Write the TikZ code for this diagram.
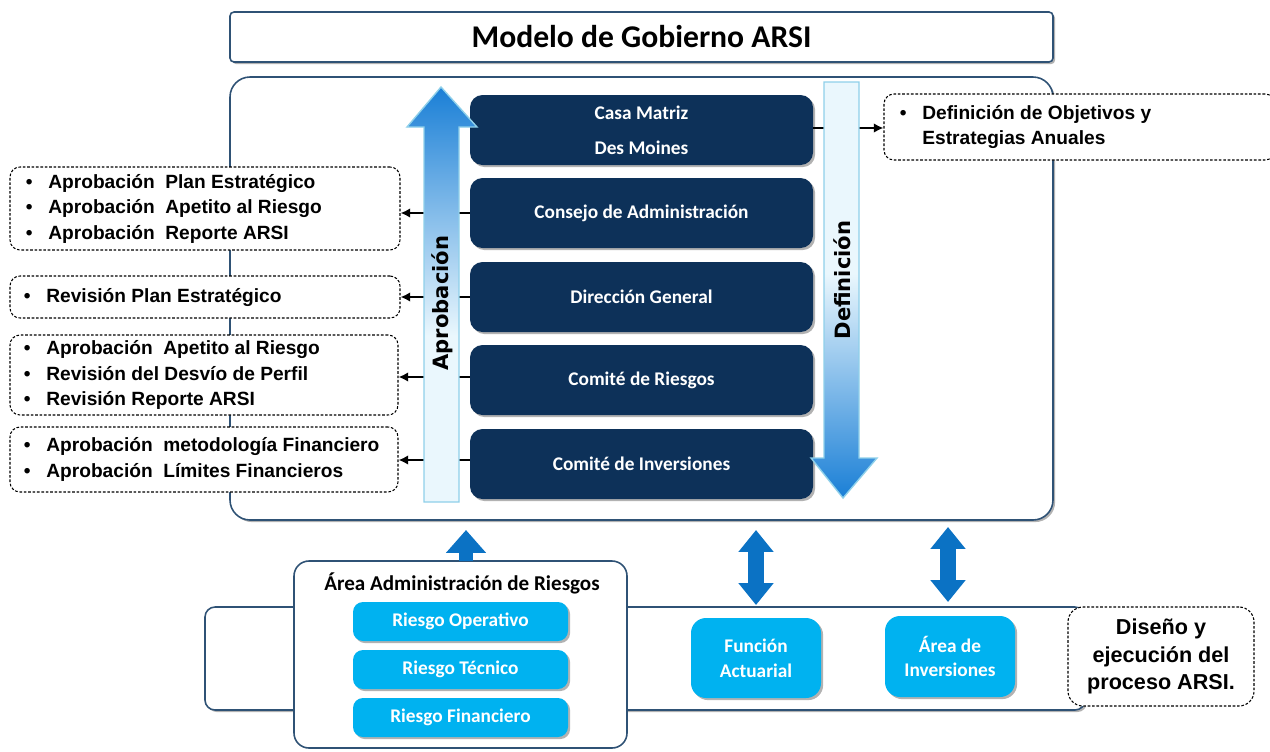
\documentclass[tikz,border=0pt]{standalone}
\usepackage{fontspec}
\setmainfont{Carlito}
\newfontfamily\arialf{Liberation Sans}
\newfontfamily\verdf{DejaVu Sans}
\usetikzlibrary{arrows.meta,fit,shadows,calc}
\definecolor{navy}{HTML}{0D3159}
\definecolor{framec}{HTML}{2F5275}
\definecolor{cyanb}{HTML}{00B2F0}
\definecolor{arrowb}{HTML}{0B72C4}
\definecolor{gblue}{HTML}{1A7FD6}
\definecolor{glight}{HTML}{EAF7FD}
\definecolor{gborder}{HTML}{8FD0EA}
\pgfdeclareverticalshading{aprobsh}{100bp}{color(0bp)=(glight); color(25bp)=(glight); color(45bp)=(glight); color(75bp)=(gblue); color(100bp)=(gblue)}
\pgfdeclareverticalshading{defsh}{100bp}{color(0bp)=(gblue); color(25bp)=(gblue); color(52bp)=(glight); color(75bp)=(glight); color(100bp)=(glight)}
\begin{document}
\begin{tikzpicture}[x=0.02cm,y=-0.02cm,
  shadowed/.style={drop shadow={shadow xshift=1.2pt,shadow yshift=-1.2pt,opacity=0.3,fill=black}},
  frame/.style={draw=framec,line width=0.9pt,fill=white,inner sep=0pt},
  darkbox/.style={fill=navy,rounded corners=0.25cm,inner sep=0pt,shadowed},
  darktext/.style={text=white,font=\bfseries\fontsize{11}{12}\selectfont,align=center},
  dashbox/.style={draw=black,line width=0.6pt,dash pattern=on 1.5pt off 1pt,fill=white,rounded corners=0.2cm,inner sep=0pt},
  listtext/.style={font=\arialf\bfseries\fontsize{10.9}{14.5}\selectfont,anchor=west,inner sep=0pt,text=black},
  cyanbox/.style={fill=cyanb,rounded corners=0.2cm,inner sep=0pt,shadowed},
  cyantext/.style={text=white,font=\bfseries\fontsize{11}{14}\selectfont,align=center},
  arrowlabel/.style={rotate=90,font=\verdf\bfseries\fontsize{12}{14}\selectfont,text=black},
  conn/.style={line width=1.2pt,-{Latex[length=5.5pt,width=5.5pt]}},
  fatarrow/.style={draw=arrowb,line width=9pt,{Triangle[width=19.3pt,length=12.5pt]}-{Triangle[width=19.3pt,length=12.5pt]}},
  uparrow/.style={draw=arrowb,line width=8.5pt,-{Triangle[width=22pt,length=13pt]}}
]
\useasboundingbox (0,0) rectangle (1270,751);

% title
\node[frame,rounded corners=0.08cm,shadowed,fit={(230,12)(1053,62)}] (title) {};
\node[font=\bfseries\fontsize{18}{20}\selectfont] at (title.center) {Modelo de Gobierno ARSI};

% main container
\node[frame,rounded corners=0.4cm,shadowed,fit={(230,77)(1053,520)}] (main) {};

% dark boxes
\node[darkbox,fit={(470,95)(813,165)}] (casa) {};
\node[darktext] at (casa.center) {Casa Matriz\\[8pt]Des Moines};
\node[darkbox,fit={(470,178)(813,248)}] (consejo) {};
\node[darktext] at (consejo.center) {Consejo de Administración};
\node[darkbox,fit={(470,262)(813,332)}] (direccion) {};
\node[darktext] at (direccion.center) {Dirección General};
\node[darkbox,fit={(470,345)(813,415)}] (riesgos) {};
\node[darktext] at (riesgos.center) {Comité de Riesgos};
\node[darkbox,fit={(470,429)(813,499)}] (inversiones) {};
\node[darktext] at (inversiones.center) {Comité de Inversiones};

% left dashed boxes
\node[dashbox,fit={(10,167)(400,250)}] (bA) {};
\node[listtext] at ($(bA.west)+(16,0)$) {\begin{tabular}{@{}l@{\hspace{9pt}}l@{}}\textbullet & Aprobación~ Plan Estratégico\\ \textbullet & Aprobación~ Apetito al Riesgo\\ \textbullet & Aprobación~ Reporte ARSI\end{tabular}};
\node[dashbox,fit={(10,276)(400,318)}] (bB) {};
\node[listtext] at ($(bB.west)+(14,0)$) {\begin{tabular}{@{}l@{\hspace{9pt}}l@{}}\textbullet & Revisión Plan Estratégico\end{tabular}};
\node[dashbox,fit={(10,335)(398,415)}] (bC) {};
\node[listtext] at ($(bC.west)+(14,0)$) {\begin{tabular}{@{}l@{\hspace{9pt}}l@{}}\textbullet & Aprobación~ Apetito al Riesgo\\ \textbullet & Revisión del Desvío de Perfil\\ \textbullet & Revisión Reporte ARSI\end{tabular}};
\node[dashbox,fit={(10,427)(398,492)}] (bD) {};
\node[listtext] at ($(bD.west)+(14,0)$) {\begin{tabular}{@{}l@{\hspace{9pt}}l@{}}\textbullet & Aprobación~ metodología Financiero\\ \textbullet & Aprobación~ Límites Financieros\end{tabular}};

% right dashed box
\node[dashbox,fit={(884,94)(1275,160)}] (bR) {};
\node[listtext] at ($(bR.west)+(16,0)$) {\begin{tabular}{@{}l@{\hspace{9pt}}l@{}}\textbullet & Definición de Objetivos y\\ & Estrategias Anuales\end{tabular}};

% connectors
\draw[conn] (consejo.west) -- (consejo.west -| bA.east);
\draw[conn] (direccion.west) -- (direccion.west -| bB.east);
\draw[conn] ($(riesgos.west)+(0,-3)$) -- ($(riesgos.west -| bC.east)+(0,-3)$);
\draw[conn] ($(inversiones.west)+(0,-4)$) -- ($(inversiones.west -| bD.east)+(0,-4)$);
\draw[conn] ($(casa.east)+(0,-2)$) -- ($(casa.east -| bR.west)+(0,-2)$);

% Aprobacion arrow
\path[shading=aprobsh,draw=gborder,line width=0.8pt]
  (424,502) -- (424,127) -- (407,127) -- (441,87) -- (477,127) -- (459,127) -- (459,502) -- cycle;
\node[arrowlabel] (aprob) at (442,303) {Aprobación};

% Definicion arrow
\path[shading=defsh,draw=gborder,line width=0.8pt]
  (824,82) -- (859,82) -- (859,458) -- (877,458) -- (843,498) -- (811,458) -- (824,458) -- cycle;
\node[arrowlabel] (defin) at (842,280) {Definición};

% bottom band
\node[frame,rounded corners=0.2cm,shadowed,fit={(205,607)(1085,710)}] (band) {};

% Area administracion
\node[frame,rounded corners=0.3cm,fit={(294,561)(627,748)}] (area) {};
\node[font=\bfseries\fontsize{12}{13}\selectfont] at (462,583) {Área Administración de Riesgos};
\node[cyanbox,fit={(353,602)(568,641)}] (ro) {};
\node[cyantext] at (ro.center) {Riesgo Operativo};
\node[cyanbox,fit={(353,650)(568,689)}] (rt) {};
\node[cyantext] at (rt.center) {Riesgo Técnico};
\node[cyanbox,fit={(353,698)(568,737)}] (rf) {};
\node[cyantext] at (rf.center) {Riesgo Financiero};

\node[cyanbox,rounded corners=0.3cm,fit={(691,618)(821,698)}] (fa) {};
\node[cyantext] at (fa.center) {Función\\Actuarial};
\node[cyanbox,rounded corners=0.3cm,fit={(885,616)(1015,697)}] (ai) {};
\node[cyantext] at (ai.center) {Área de\\Inversiones};

\node[dashbox,rounded corners=0.3cm,fit={(1068,607)(1254,706)}] (dis) {};
\node[font=\arialf\bfseries\fontsize{12.3}{15.5}\selectfont,align=center] at (dis.center) {Diseño y\\ejecución del\\proceso ARSI.};

% blue arrows
\coordinate (upb) at (466,561);
\coordinate (upt) at (466,530);
\draw[uparrow] (upb) -- (upt);
\draw[fatarrow] (756,605) -- (756,530);
\draw[fatarrow] (948,602) -- (948,527);
\end{tikzpicture}
\end{document}
